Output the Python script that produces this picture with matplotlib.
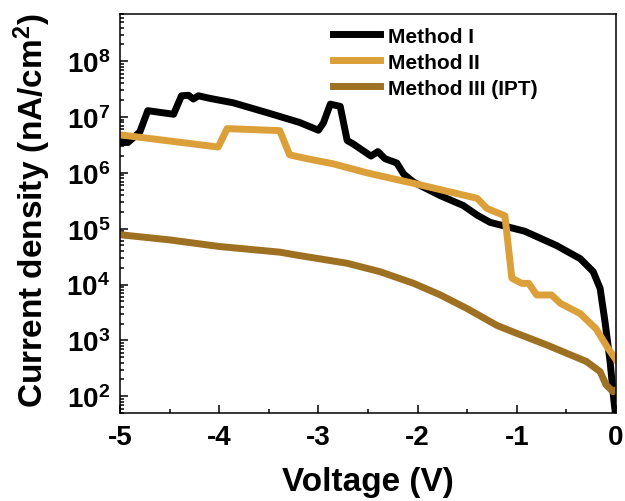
import numpy as np
import matplotlib
matplotlib.use("Agg")
import matplotlib.pyplot as plt
from matplotlib.ticker import LogLocator, MultipleLocator, NullFormatter

plt.rcParams['font.family'] = ['Liberation Sans', 'DejaVu Sans']
plt.rcParams['font.weight'] = 'bold'
plt.rcParams['mathtext.default'] = 'regular'
plt.rcParams['axes.unicode_minus'] = False

# Method I (black)
v1 = [-5.00, -4.92, -4.80, -4.72, -4.46, -4.38, -4.31, -4.26, -4.21, -4.09,
      -3.86, -3.52, -3.19, -3.00, -2.95, -2.88, -2.78, -2.71, -2.65, -2.47,
      -2.40, -2.33, -2.21, -2.14, -2.04, -1.77, -1.54, -1.40, -1.27, -0.92,
      -0.60, -0.36, -0.23, -0.16, -0.11, -0.06, -0.02, 0.00]
j1 = [3.5e6, 3.5e6, 5.4e6, 1.3e7, 1.12e7, 2.4e7, 2.45e7, 2.1e7, 2.4e7, 2.15e7,
      1.8e7, 1.2e7, 8.0e6, 5.8e6, 7.8e6, 1.7e7, 1.55e7, 3.8e6, 3.3e6, 2.0e6,
      2.4e6, 1.8e6, 1.5e6, 9.5e5, 6.8e5, 3.9e5, 2.6e5, 1.75e5, 1.3e5, 9.0e4,
      5.0e4, 2.9e4, 1.7e4, 8.5e3, 2.1e3, 4.2e2, 8.0e1, 4.0e1]

# Method II
v2 = [-5.00, -4.01, -3.92, -3.39, -3.29, -3.12, -2.85, -2.51, -2.01, -1.40,
      -1.30, -1.12, -1.05, -0.95, -0.88, -0.80, -0.65, -0.56, -0.36, -0.20,
      -0.08, 0.00]
j2 = [4.8e6, 2.9e6, 6.2e6, 5.7e6, 2.1e6, 1.8e6, 1.45e6, 1.0e6, 6.3e5, 3.5e5,
      2.3e5, 1.7e5, 1.3e4, 1.05e4, 1.05e4, 6.5e3, 6.5e3, 4.6e3, 3.0e3, 1.6e3,
      7.2e2, 4.5e2]

# Method III (IPT)
v3 = [-5.00, -4.50, -4.00, -3.39, -3.19, -2.71, -2.38, -2.04, -1.77, -1.50,
      -1.20, -1.03, -0.70, -0.50, -0.30, -0.16, -0.10, -0.03, 0.00]
j3 = [7.8e4, 6.3e4, 4.8e4, 3.8e4, 3.3e4, 2.4e4, 1.7e4, 1.05e4, 6.5e3, 3.7e3,
      1.85e3, 1.4e3, 8.3e2, 5.9e2, 4.2e2, 2.75e2, 1.6e2, 1.2e2, 1.3e2]

labels = ['Method I', 'Method II', 'Method III (IPT)']
colors = ['#000000', '#DCA03A', '#9E7122']

fig = plt.figure(figsize=(6.25, 5.02), dpi=100)
ax = fig.add_axes([120 / 625, 1 - 414 / 502, 496 / 625, 399 / 502])

for v, j, lab, c in zip([v1, v2, v3], [j1, j2, j3], labels, colors):
    ax.plot(v, j, color=c, lw=5, label=lab, solid_joinstyle='round')

ax.set_yscale('log')
ax.set_xlim(-5, 0)
ax.set_ylim(50, 7e8)

ax.xaxis.set_major_locator(MultipleLocator(1))
ax.xaxis.set_minor_locator(MultipleLocator(0.5))
ax.yaxis.set_minor_locator(LogLocator(base=10, subs=np.arange(2, 10), numticks=50))
ax.yaxis.set_minor_formatter(NullFormatter())
ax.set_yticks([1e2, 1e3, 1e4, 1e5, 1e6, 1e7, 1e8])

ax.tick_params(which='both', direction='in', top=False, right=False, width=1.1)
ax.tick_params(which='major', length=5.5, labelsize=20)
ax.tick_params(axis='x', which='major', pad=8)
ax.tick_params(axis='y', which='major', pad=7)
ax.tick_params(which='minor', length=3)
for lbl in ax.get_xticklabels() + ax.get_yticklabels():
    lbl.set_fontweight('bold')
for s in ax.spines.values():
    s.set_linewidth(1.1)

ax.set_xlabel('Voltage (V)', fontsize=24, fontweight='bold')
ax.set_ylabel(r'Current density (nA/cm$^{2}$)', fontsize=24, fontweight='bold')
ax.xaxis.set_label_coords(0.5, -0.133)
ax.yaxis.set_label_coords(-0.136, 0.51)

leg = ax.legend(loc='upper left', bbox_to_anchor=(0.429, 0.968), frameon=False,
                borderpad=0, borderaxespad=0, handlelength=2.25, handletextpad=0.4,
                labelspacing=0.33, prop={'size': 15, 'weight': 'bold'})

fig.savefig('out.png', dpi=100)
